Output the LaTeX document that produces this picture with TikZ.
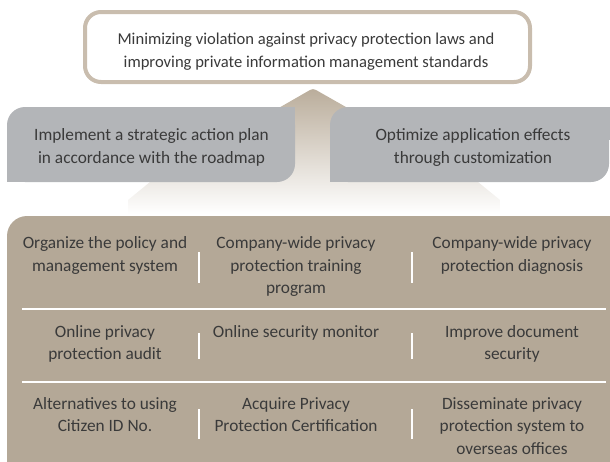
\documentclass[tikz,border=0pt]{standalone}
\usepackage{fontspec}
\setmainfont{Carlito}
\definecolor{tanpanel}{RGB}{180,168,151}
\definecolor{graybox}{RGB}{179,181,184}
\definecolor{topborder}{RGB}{201,189,174}
\definecolor{arrowtop}{RGB}{186,173,155}
\definecolor{arrowmid}{RGB}{214,205,193}
\definecolor{textc}{RGB}{58,58,58}
\begin{document}
\begin{tikzpicture}[x=1pt,y=-1pt,
  txt/.style={text=textc, align=center, anchor=north, inner sep=0pt,
    font=\fontsize{17.3}{22.5}\selectfont},
  sepline/.style={draw=white, line width=2.5pt}]
\useasboundingbox (0,0) rectangle (610,461);
\clip (0,0) rectangle (610,461);
% upward arrow
\shade[top color=arrowtop, middle color=arrowmid, bottom color=white]
  (128,214) -- (128,200) -- (150,182) -- (310,90) to[out=30,in=150] (316,90) -- (478,182) -- (500,200) -- (500,214) -- cycle;
% goal box
\node[draw=topborder, line width=4pt, rounded corners=16pt, fill=white,
  minimum width=445pt, minimum height=70pt] (goalbox) at (307.5,47) {};
\node[txt, font=\fontsize{16.6}{22.5}\selectfont] (goal) at (306,33) {Minimizing violation against privacy protection laws and\\improving private information management standards};
% gray boxes
\fill[graybox, rounded corners=18pt] (7,107) rectangle (295,182);
\fill[graybox] (7,150) rectangle (40,182);
\fill[graybox] (260,107) rectangle (295,140);
\fill[graybox, rounded corners=18pt] (330,107) rectangle (609,182);
\fill[graybox] (330,150) rectangle (370,182);
\fill[graybox] (570,107) rectangle (610,140);
\node[txt] (plan) at (151.5,128.5) {Implement a strategic action plan\\in accordance with the roadmap};
\node[txt] (opt) at (473,128.5) {Optimize application effects\\through customization};
% panel
\fill[tanpanel, rounded corners=20pt] (7,216) rectangle (640,490);
% separators
\coordinate (h1a) at (22,309); \coordinate (h1b) at (606,309);
\coordinate (h2a) at (22,382); \coordinate (h2b) at (606,382);
\draw[sepline] (h1a) -- (h1b);
\draw[sepline] (h2a) -- (h2b);
\foreach \xx in {199,412} {
  \draw[sepline] (\xx,252) -- (\xx,283);
  \draw[sepline] (\xx,333) -- (\xx,359);
  \draw[sepline] (\xx,409) -- (\xx,439);
}
% row 1
\node[txt] (r1a) at (105,236.5) {Organize the policy and\\management system};
\node[txt] (r1b) at (296,236.5) {Company-wide privacy\\protection training\\program};
\node[txt] (r1c) at (512,236.5) {Company-wide privacy\\protection diagnosis};
% row 2
\node[txt] (r2a) at (105,325) {Online privacy\\protection audit};
\node[txt] (r2b) at (296,325) {Online security monitor};
\node[txt] (r2c) at (512,325) {Improve document\\security};
% row 3
\node[txt] (r3a) at (105,397) {Alternatives to using\\Citizen ID No.};
\node[txt] (r3b) at (296,397) {Acquire Privacy\\Protection Certification};
\node[txt] (r3c) at (512,397) {Disseminate privacy\\protection system to\\overseas offices};
\end{tikzpicture}
\end{document}
